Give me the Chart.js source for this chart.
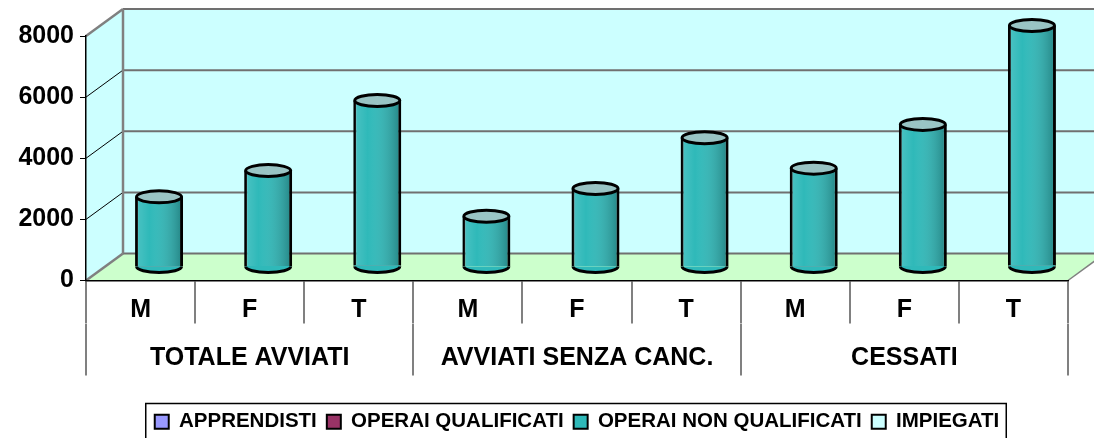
<!DOCTYPE html>
<html>
<head>
<meta charset="utf-8">
<script src="https://cdn.jsdelivr.net/npm/chart.js@4.4.1/dist/chart.umd.min.js"></script>
<style>
  html, body { margin: 0; padding: 0; background: #fff; }
  #wrap { width: 1094px; height: 438px; }
</style>
</head>
<body>
<div id="wrap"><canvas id="chart"></canvas></div>
<script>
const categories = ['M', 'F', 'T', 'M', 'F', 'T', 'M', 'F', 'T'];
const groups = ['TOTALE AVVIATI', 'AVVIATI SENZA CANC.', 'CESSATI'];
const apprendisti = [0, 0, 0, 0, 0, 0, 0, 0, 0];
const operaiQualificati = [25, 35, 60, 0, 0, 0, 25, 35, 60];
const operaiNonQualificati = [2270, 3120, 5390, 1660, 2570, 4230, 3210, 4630, 7840];
const impiegati = [0, 0, 0, 0, 0, 0, 0, 0, 0];
const yTicks = [0, 2000, 4000, 6000, 8000];

// depth of the 3d box
const DX = 37, DY = 27;
const FONT = "'Liberation Sans', Arial, sans-serif";

function poly(ctx, pts, fill) {
  ctx.beginPath();
  pts.forEach((p, i) => i ? ctx.lineTo(p[0], p[1]) : ctx.moveTo(p[0], p[1]));
  ctx.closePath();
  ctx.fillStyle = fill;
  ctx.fill();
}
function line(ctx, x1, y1, x2, y2, color, w) {
  ctx.beginPath();
  ctx.moveTo(x1, y1);
  ctx.lineTo(x2, y2);
  ctx.strokeStyle = color;
  ctx.lineWidth = w;
  ctx.stroke();
}

const walls = {
  id: 'walls',
  beforeDraw(chart) {
    const { ctx, chartArea: a, scales: { y } } = chart;
    ctx.save();
    poly(ctx, [[a.left, a.bottom], [a.left, a.top], [a.left + DX, a.top - DY], [a.left + DX, a.bottom - DY]], '#ccffff');
    poly(ctx, [[a.left + DX, a.top - DY], [a.right + DX, a.top - DY], [a.right + DX, a.bottom - DY], [a.left + DX, a.bottom - DY]], '#ccffff');
    poly(ctx, [[a.left, a.bottom], [a.right, a.bottom], [a.right + DX, a.bottom - DY], [a.left + DX, a.bottom - DY]], '#ccffcc');
    yTicks.forEach((v, i) => {
      const py = y.getPixelForValue(v);
      const edge = i === 0 || i === yTicks.length - 1;
      line(ctx, a.left, py, a.left + DX, py - DY, edge ? '#808080' : '#000', edge ? 2.5 : 1);
      line(ctx, a.left + DX, py - DY, a.right + DX, py - DY, '#707070', 2);
    });
    line(ctx, a.left + DX, a.top - DY, a.left + DX, a.bottom - DY, '#808080', 2.5);
    line(ctx, a.right, a.bottom, a.right + DX, a.bottom - DY, '#808080', 1.5);
    ctx.restore();
  }
};

const cylinders = {
  id: 'cylinders',
  beforeDatasetsDraw(chart) {
    chart.ctx.save();
    chart.ctx.translate(DX / 2, -DY / 2);
  },
  afterDatasetsDraw(chart) {
    const ctx = chart.ctx;
    const sets = chart.data.datasets;
    categories.forEach((c, i) => {
      const stack = sets.map((d, k) => ({ d, el: chart.getDatasetMeta(k).data[i] }))
        .filter(s => s.d.data[i] > 0);
      if (!stack.length) return;
      const bot = stack[0], top = stack[stack.length - 1];
      const x = top.el.x, w = top.el.width, rx = w / 2, ry = 6;
      const yTop = top.el.y, yBase = bot.el.base;
      const g = ctx.createLinearGradient(x - rx, 0, x + rx, 0);
      g.addColorStop(0, 'rgba(255,255,255,0.15)');
      g.addColorStop(0.3, 'rgba(255,255,255,0)');
      g.addColorStop(1, 'rgba(0,0,0,0.3)');
      ctx.fillStyle = g;
      ctx.fillRect(x - rx + 2, yTop, w - 4, yBase - yTop);
      // rounded bottom
      ctx.beginPath();
      ctx.ellipse(x, yBase, rx - 1, ry, 0, 0, Math.PI);
      ctx.fillStyle = bot.d.backgroundColor;
      ctx.fill();
      if (bot !== top) {
        ctx.beginPath();
        ctx.ellipse(x, bot.el.y, rx - 1, ry, 0, 0, Math.PI);
        ctx.fillStyle = top.d.backgroundColor;
        ctx.fill();
      }
      ctx.beginPath();
      ctx.ellipse(x, yBase, rx - 1.5, ry, 0, 0, Math.PI);
      ctx.lineWidth = 3;
      ctx.strokeStyle = '#000';
      ctx.stroke();
      // top cap
      ctx.beginPath();
      ctx.ellipse(x, yTop, rx - 1.5, ry, 0, 0, 2 * Math.PI);
      ctx.fillStyle = '#99c4c4';
      ctx.fill();
      ctx.stroke();
    });
    ctx.restore();
  }
};

const legendFrame = {
  id: 'legendFrame',
  afterDraw(chart) {
    const hb = chart.legend.legendHitBoxes;
    if (!hb || !hb.length) return;
    const last = hb[hb.length - 1];
    const ctx = chart.ctx;
    ctx.save();
    ctx.strokeStyle = '#000';
    ctx.lineWidth = 1.5;
    ctx.strokeRect(hb[0].left - 9, hb[0].top - 8, last.left + last.width - hb[0].left + 16, 60);
    ctx.restore();
  }
};

const body = (label, data, color, bw) => ({
  label, data,
  backgroundColor: color,
  borderColor: '#000',
  borderWidth: bw ? { left: 3, right: 3, top: 0, bottom: 0 } : 0,
  borderSkipped: false,
  barPercentage: 0.44,
  categoryPercentage: 1,
  clip: false
});

new Chart(document.getElementById('chart'), {
  type: 'bar',
  data: {
    labels: categories,
    datasets: [
      body('APPRENDISTI', apprendisti, '#9999ff', false),
      body('OPERAI QUALIFICATI', operaiQualificati, '#993366', true),
      body('OPERAI NON QUALIFICATI', operaiNonQualificati, '#2fb9b9', true),
      body('IMPIEGATI', impiegati, '#ccffff', false)
    ]
  },
  options: {
    responsive: true,
    maintainAspectRatio: false,
    animation: false,
    layout: { padding: { top: 36, right: 26, left: 0, bottom: -4 } },
    plugins: {
      tooltip: { enabled: false },
      legend: {
        position: 'bottom',
        fullSize: false,
        labels: {
          color: '#000',
          font: { family: FONT, size: 20.5, weight: 'bold' },
          boxWidth: 14,
          boxHeight: 14,
          padding: 10,
          generateLabels: chart => chart.data.datasets.map((d, i) => ({
            text: d.label,
            fillStyle: d.backgroundColor,
            strokeStyle: '#000',
            lineWidth: 2,
            datasetIndex: i
          }))
        }
      }
    },
    scales: {
      x: {
        stacked: true,
        offset: true,
        grid: { offset: true, drawOnChartArea: false, tickLength: 43, color: '#808080', lineWidth: 2 },
        border: { color: '#000', width: 1.5 },
        ticks: { color: '#000', font: { family: FONT, size: 25, weight: 'bold' }, padding: -28 },
        afterFit: s => { s.height = 43; }
      },
      x2: {
        type: 'category',
        labels: groups,
        position: 'bottom',
        offset: true,
        grid: { offset: true, drawOnChartArea: false, tickLength: 52, color: '#808080', lineWidth: 2 },
        border: { display: false },
        ticks: { color: '#000', font: { family: FONT, size: 25, weight: 'bold' }, padding: -32 },
        afterFit: s => { s.height = 78; }
      },
      y: {
        stacked: true,
        min: yTicks[0],
        max: yTicks[yTicks.length - 1],
        grid: { drawOnChartArea: false, tickLength: 6, color: '#000' },
        border: { color: '#000', width: 1.5 },
        ticks: {
          stepSize: yTicks[1] - yTicks[0],
          color: '#000',
          font: { family: FONT, size: 25, weight: 'bold' },
          padding: 6,
          callback: v => String(v)
        },
        afterFit: s => { s.width = 86; }
      }
    }
  },
  plugins: [walls, cylinders, legendFrame]
});
</script>
</body>
</html>
